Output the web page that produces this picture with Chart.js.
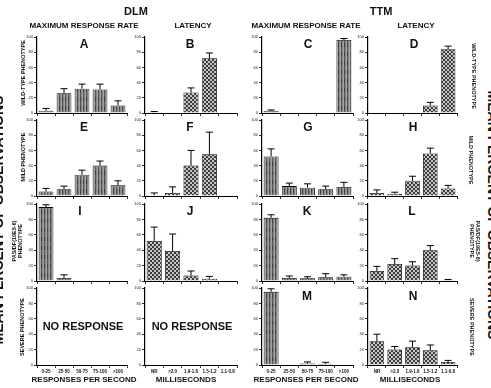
<!DOCTYPE html>
<html>
<head>
  <title>DLM / TTM response</title>
  <script src="https://cdn.jsdelivr.net/npm/chart.js"></script>
  <style>
    body { margin: 0; background: #fff; }
    #fig { position: relative; width: 491px; height: 388px; overflow: hidden;
           font-family: "Liberation Sans", Arial, sans-serif; font-weight: bold; color: #111; }
    #fig canvas { position: absolute; }
    .t { position: absolute; white-space: nowrap; line-height: 1.1; text-align: center;
         transform: translate(-50%, -50%); }
    .t.l { transform: translate(-50%, -50%) rotate(-90deg); }
    .t.r { transform: translate(-50%, -50%) rotate(90deg); }
  </style>
</head>
<body>
<div id="fig"></div>
<script>
  // categories
  const rateLabels = ['0-25', '25-50', '50-75', '75-100', '>100'];
  const latencyLabels = ['NR', '>2.0', '1.9-1.6', '1.5-1.2', '1.1-0.8'];
  const yTicks = [0, 20, 40, 60, 80, 100];

  // mean percent of observations, and upper error (SEM) for each bar
  const dlmRateWild = [3, 26, 32, 31, 10];      const dlmRateWildErr = [3, 6, 6, 7, 6];        // A
  const dlmLatWild = [1, 0, 27, 72, 0.5];       const dlmLatWildErr = [1, 0, 6, 7, 0];         // B
  const ttmRateWild = [3, 0, 0, 0.5, 96];       const ttmRateWildErr = [1, 0, 0, 0, 2];        // C
  const ttmLatWild = [0, 0, 0, 10, 84];         const ttmLatWildErr = [0, 0, 0, 4, 4];         // D
  const dlmRateMild = [6, 9, 28, 40, 14];       const dlmRateMildErr = [4, 4, 6, 6, 6];        // E
  const dlmLatMild = [1, 4, 40, 55, 0.5];       const dlmLatMildErr = [3, 8, 20, 29, 0];       // F
  const ttmRateMild = [52, 13, 11, 9, 12];      const ttmRateMildErr = [10, 4, 5, 4, 6];       // G
  const ttmLatMild = [4, 3, 20, 56, 10];        const ttmLatMildErr = [4, 2, 6, 7, 4];         // H
  const dlmRatePas = [96, 4, 0, 0, 0];          const dlmRatePasErr = [3, 4, 0, 0, 0];         // I
  const dlmLatPas = [52, 39, 7, 3, 0.5];        const dlmLatPasErr = [18, 22, 6, 3, 0];        // J
  const ttmRatePas = [82, 4, 3.5, 5, 5.5];      const ttmRatePasErr = [4, 2.5, 2, 4.5, 2.5];   // K
  const ttmLatPas = [13, 22, 20, 40, 1];        const ttmLatPasErr = [6, 7, 5, 6, 1];          // L
  const dlmRateSevere = [null, null, null, null, null];                                         // no response
  const dlmLatSevere = [null, null, null, null, null];                                          // no response
  const ttmRateSevere = [95, 0.5, 2, 1.5, 0];   const ttmRateSevereErr = [4, 0, 2, 2, 0];      // M
  const ttmLatSevere = [31, 20, 23, 19, 4];     const ttmLatSevereErr = [9, 4, 8, 7, 2];       // N

  const fig = document.getElementById('fig');
  Chart.defaults.font.family = '"Liberation Sans", Arial, sans-serif';

  // bar textures: vertical striation for rate, cross-hatch for latency
  function ratePattern() {
    const c = document.createElement('canvas'); c.width = 3; c.height = 9;
    const g = c.getContext('2d');
    g.fillStyle = '#858585'; g.fillRect(0, 0, 3, 9);
    g.fillStyle = '#5a5a5a'; g.fillRect(0, 0, 1, 9);
    g.fillStyle = '#a2a2a2'; g.fillRect(2, 0, 1, 9);
    g.fillStyle = '#3e3e3e'; g.fillRect(0, 2, 1, 4);
    return g.createPattern(c, 'repeat');
  }
  function hatchPattern() {
    const c = document.createElement('canvas'); c.width = 4; c.height = 4;
    const g = c.getContext('2d');
    g.fillStyle = '#c6c6c6'; g.fillRect(0, 0, 4, 4);
    g.fillStyle = '#3c3c3c';
    for (let i = 0; i < 4; i++) { g.fillRect(i, i, 1, 1); g.fillRect(3 - i, i, 1, 1); }
    return g.createPattern(c, 'repeat');
  }
  const rateFill = ratePattern();
  const latFill = hatchPattern();

  // draws the upper error whiskers
  const errorBars = {
    id: 'errorBars',
    afterDatasetsDraw(chart) {
      const ds = chart.data.datasets[0];
      if (!ds.errors) return;
      const ctx = chart.ctx, y = chart.scales.y;
      chart.getDatasetMeta(0).data.forEach((bar, i) => {
        const v = ds.data[i], e = ds.errors[i];
        if (v == null || !e) return;
        const top = y.getPixelForValue(v + e);
        ctx.save();
        ctx.strokeStyle = '#000'; ctx.lineWidth = 1;
        ctx.beginPath();
        ctx.moveTo(bar.x, bar.y); ctx.lineTo(bar.x, top);
        ctx.moveTo(bar.x - 3.5, top); ctx.lineTo(bar.x + 3.5, top);
        ctx.stroke();
        ctx.restore();
      });
    }
  };

  const cols = [{ x: 37, w: 90 }, { x: 145, w: 92 }, { x: 262, w: 91 }, { x: 368, w: 89 }];
  const rows = [{ y: 37, h: 76 }, { y: 120, h: 76 }, { y: 204, h: 77 }, { y: 288, h: 77 }];

  const panels = [
    [[dlmRateWild, dlmRateWildErr], [dlmLatWild, dlmLatWildErr], [ttmRateWild, ttmRateWildErr], [ttmLatWild, ttmLatWildErr]],
    [[dlmRateMild, dlmRateMildErr], [dlmLatMild, dlmLatMildErr], [ttmRateMild, ttmRateMildErr], [ttmLatMild, ttmLatMildErr]],
    [[dlmRatePas, dlmRatePasErr], [dlmLatPas, dlmLatPasErr], [ttmRatePas, ttmRatePasErr], [ttmLatPas, ttmLatPasErr]],
    [[dlmRateSevere, null], [dlmLatSevere, null], [ttmRateSevere, ttmRateSevereErr], [ttmLatSevere, ttmLatSevereErr]]
  ];

  function makePanel(values, errors, col, row, isRate, showX) {
    const padL = 20, padT = 5, padR = 6, xh = showX ? 10 : 4;
    const cv = document.createElement('canvas');
    cv.width = padL + col.w + padR;
    cv.height = padT + row.h + xh;
    cv.style.left = (col.x - padL) + 'px';
    cv.style.top = (row.y - padT) + 'px';
    fig.appendChild(cv);
    new Chart(cv, {
      type: 'bar',
      data: {
        labels: isRate ? rateLabels : latencyLabels,
        datasets: [{
          data: values,
          errors: errors,
          backgroundColor: isRate ? rateFill : latFill,
          borderColor: '#000',
          borderWidth: 0.8,
          barPercentage: 0.82,
          categoryPercentage: 1
        }]
      },
      options: {
        responsive: false,
        animation: false,
        devicePixelRatio: 1,
        layout: { padding: { top: padT, right: padR, left: 0, bottom: 0 } },
        plugins: { legend: { display: false }, tooltip: { enabled: false } },
        scales: {
          x: {
            grid: { drawOnChartArea: false, tickLength: 3, color: '#000', lineWidth: 0.8 },
            border: { color: '#000', width: 1 },
            ticks: { display: showX, font: { size: 4.5, weight: 'bold' }, color: '#111',
                     padding: 1, maxRotation: 0, autoSkip: false },
            afterFit(s) { s.height = xh; }
          },
          y: {
            min: 0, max: 100,
            afterBuildTicks(s) { s.ticks = yTicks.map(v => ({ value: v })); },
            grid: { drawOnChartArea: false, tickLength: 3, color: '#000', lineWidth: 0.8 },
            border: { color: '#000', width: 1.2 },
            ticks: { font: { size: 4 }, color: '#222', padding: 1 },
            afterFit(s) { s.width = padL; }
          }
        }
      },
      plugins: [errorBars]
    });
  }

  rows.forEach((row, r) => {
    cols.forEach((col, c) => {
      const [vals, errs] = panels[r][c];
      makePanel(vals, errs, col, row, c % 2 === 0, r === rows.length - 1);
    });
  });

  // text
  function txt(s, x, y, size, cls) {
    const d = document.createElement('div');
    d.className = 't' + (cls ? ' ' + cls : '');
    d.style.left = x + 'px'; d.style.top = y + 'px'; d.style.fontSize = size + 'px';
    d.innerHTML = s;
    fig.appendChild(d);
  }
  txt('DLM', 136, 11, 11);
  txt('TTM', 381, 11, 11);
  txt('MAXIMUM RESPONSE RATE', 84, 26, 8);
  txt('LATENCY', 193, 26, 8);
  txt('MAXIMUM RESPONSE RATE', 306, 26, 8);
  txt('LATENCY', 416, 26, 8);
  txt('RESPONSES PER SECOND', 84, 380, 8);
  txt('MILLISECONDS', 186, 380, 8);
  txt('RESPONSES PER SECOND', 306, 380, 8);
  txt('MILLISECONDS', 410, 380, 8);

  const letters = [['A', 84, 45], ['B', 190, 45], ['C', 308, 45], ['D', 414, 45],
                   ['E', 84, 128], ['F', 190, 128], ['G', 308, 128], ['H', 413, 128],
                   ['I', 80, 212], ['J', 190, 212], ['K', 307, 212], ['L', 412, 212],
                   ['M', 307, 297], ['N', 413, 297]];
  letters.forEach(([s, x, y]) => txt(s, x, y, 12));

  txt('NO RESPONSE', 83, 326, 11);
  txt('NO RESPONSE', 192, 326, 11);

  txt('WILD-TYPE PHENOTYPE', 23, 73, 5.5, 'l');
  txt('MILD PHENOTYPE', 23, 157, 5.5, 'l');
  txt('PAS/DF(19E5-6)<br>PHENOTYPE', 17, 241, 5.5, 'l');
  txt('SEVERE PHENOTYPE', 22, 327, 5.5, 'l');
  txt('WILD-TYPE PHENOTYPE', 474, 76, 5.5, 'r');
  txt('MILD PHENOTYPE', 471, 160, 5.5, 'r');
  txt('PAS/DF(19E5-6)<br>PHENOTYPE', 475, 241, 5.5, 'r');
  txt('SEVERE PHENOTYPE', 472, 327, 5.5, 'r');

  txt('MEAN PERCENT OF OBSERVATIONS', -1, 220, 14, 'l');
  txt('MEAN PERCENT OF OBSERVATIONS', 492, 215, 14, 'r');
</script>
</body>
</html>
